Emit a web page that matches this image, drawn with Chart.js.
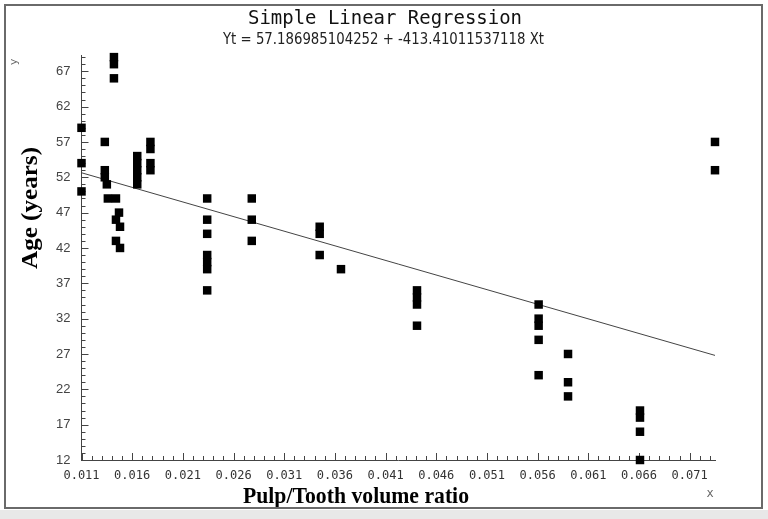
<!DOCTYPE html>
<html><head><meta charset="utf-8">
<script src="https://cdn.jsdelivr.net/npm/chart.js@4"></script>
<style>html,body{margin:0;padding:0;background:#fff}#wrap{width:768px;height:519px;position:relative}</style>
</head><body><div id="wrap"><canvas id="c" width="768" height="519"></canvas></div>
<script>
const titleText = 'Simple Linear Regression';
const subtitleText = 'Yt = 57.186985104252 + -413.41011537118 Xt';
const xAxisTitle = 'Pulp/Tooth volume ratio';
const yAxisTitle = 'Age (years)';

const pulpRatio = [
  0.011, 0.011, 0.011,
  0.0133, 0.0133, 0.0133, 0.0135,
  0.0136, 0.0144,
  0.0142, 0.0142, 0.0142,
  0.0147, 0.0144, 0.0148, 0.0144, 0.0148,
  0.0165, 0.0165, 0.0165, 0.0165, 0.0165,
  0.0178, 0.0178, 0.0178, 0.0178,
  0.0234, 0.0234, 0.0234, 0.0234, 0.0234, 0.0234, 0.0234,
  0.0278, 0.0278, 0.0278,
  0.0345, 0.0345, 0.0345,
  0.0366,
  0.0441, 0.0441, 0.0441, 0.0441,
  0.0561, 0.0561, 0.0561, 0.0561, 0.0561,
  0.0590, 0.0590, 0.0590,
  0.0661, 0.0661, 0.0661, 0.0661,
  0.0735, 0.0735
];
const ageYears = [
  59, 54, 50,
  57, 53, 52, 51,
  49, 49,
  69, 68, 66,
  47, 46, 45, 43, 42,
  55, 54, 53, 52, 51,
  57, 56, 54, 53,
  49, 46, 44, 41, 40, 39, 36,
  49, 46, 43,
  45, 44, 41,
  39,
  36, 35, 34, 31,
  34, 32, 31, 29, 24,
  27, 23, 21,
  19, 18, 16, 12,
  57, 53
];
const regressionX = [0.011, 0.0735];
const regressionY = [52.64, 26.80];
const xTickValues = [0.011, 0.016, 0.021, 0.026, 0.031, 0.036, 0.041, 0.046, 0.051, 0.056, 0.061, 0.066, 0.071];
const yTickValues = [12, 17, 22, 27, 32, 37, 42, 47, 52, 57, 62, 67];

const xMin = Math.min(...pulpRatio), xMax = Math.max(...pulpRatio);
const yMin = Math.min(...ageYears), yMax = Math.max(...ageYears) + 0.3;

function fitText(ctx, text, cx, cy, targetW) {
  const w = ctx.measureText(text).width;
  const sx = targetW / w;
  ctx.save();
  ctx.translate(cx, cy);
  ctx.scale(sx, 1);
  ctx.fillText(text, 0, 0);
  ctx.restore();
}

const decor = {
  id: 'decor',
  beforeDraw(chart) {
    const ctx = chart.ctx;
    ctx.save();
    ctx.fillStyle = '#fff';
    ctx.fillRect(0, 0, chart.width, chart.height);
    ctx.restore();
  },
  beforeDatasetsDraw(chart) {
    const {ctx, chartArea: a, scales: {x, y}} = chart;
    ctx.save();
    ctx.strokeStyle = '#444';
    ctx.lineWidth = 1;
    ctx.beginPath();
    for (let v = yMin; v <= Math.floor(yMax); v++) {
      const py = Math.round(y.getPixelForValue(v)) + 0.5;
      const len = yTickValues.includes(v) ? 7 : 4;
      ctx.moveTo(a.left, py); ctx.lineTo(a.left + len, py);
    }
    for (let k = 0; ; k++) {
      const v = xMin + k * 0.001;
      if (v > xMax + 1e-9) break;
      const px = Math.round(x.getPixelForValue(v)) + 0.5;
      const major = (k % 5) === 0;
      const len = major ? 7 : 4;
      ctx.moveTo(px, a.bottom); ctx.lineTo(px, a.bottom - len);
    }
    ctx.stroke();
    ctx.restore();
  },
  afterDraw(chart) {
    const ctx = chart.ctx;
    ctx.save();
    // title
    ctx.fillStyle = '#111';
    ctx.textAlign = 'center';
    ctx.textBaseline = 'middle';
    ctx.font = '19px "DejaVu Sans Mono"';
    fitText(ctx, titleText, 385, 19, 274);
    ctx.fillStyle = '#222';
    ctx.font = '15px "DejaVu Sans"';
    fitText(ctx, subtitleText, 383.5, 40, 321);
    // axis titles
    ctx.fillStyle = '#000';
    ctx.font = 'bold 24px "Liberation Serif", "Times New Roman", serif';
    fitText(ctx, xAxisTitle, 356, 497, 226);
    ctx.font = 'bold 23px "Liberation Serif", "Times New Roman", serif';
    ctx.save();
    ctx.translate(31, 208);
    ctx.rotate(-Math.PI / 2);
    fitText(ctx, yAxisTitle, 0, 0, 122);
    ctx.restore();
    // small axis letters
    ctx.fillStyle = '#666';
    ctx.font = '11px "DejaVu Sans Mono"';
    ctx.save();
    ctx.translate(14, 62);
    ctx.rotate(-Math.PI / 2);
    ctx.fillText('y', 0, 0);
    ctx.restore();
    ctx.font = '12px "DejaVu Sans Mono"';
    ctx.fillText('x', 710, 494);
    // frame
    ctx.strokeStyle = '#6a6a6a';
    ctx.lineWidth = 2;
    ctx.strokeRect(5, 5, 757, 503);
    ctx.fillStyle = '#e8e8e8';
    ctx.fillRect(0, 510, 768, 9);
    ctx.restore();
  }
};

new Chart(document.getElementById('c'), {
  type: 'scatter',
  data: {
    datasets: [
      {
        type: 'line',
        data: regressionX.map((v, i) => ({x: v, y: regressionY[i]})),
        borderColor: '#444',
        borderWidth: 1,
        pointRadius: 0,
        fill: false,
        order: 2
      },
      {
        data: pulpRatio.map((v, i) => ({x: v, y: ageYears[i]})),
        pointStyle: 'rect',
        pointRadius: 6,
        pointHoverRadius: 6,
        backgroundColor: '#000',
        borderColor: '#000',
        borderWidth: 0,
        clip: false,
        order: 1
      }
    ]
  },
  options: {
    responsive: false,
    animation: false,
    devicePixelRatio: 1,
    layout: {padding: {top: 55, right: 53, bottom: 0, left: 0}},
    plugins: {legend: {display: false}, tooltip: {enabled: false}, title: {display: false}},
    scales: {
      x: {
        type: 'linear',
        min: xMin,
        max: xMax,
        afterBuildTicks: s => { s.ticks = xTickValues.map(v => ({value: v})); },
        afterFit: s => { s.height = 59; },
        grid: {display: false, drawTicks: false},
        border: {display: true, color: '#444', width: 1},
        ticks: {
          font: {family: 'DejaVu Sans Mono', size: 12},
          color: '#333',
          padding: 9,
          autoSkip: false,
          maxRotation: 0,
          callback: v => Number(v).toFixed(3)
        }
      },
      y: {
        type: 'linear',
        min: yMin,
        max: yMax,
        afterBuildTicks: s => { s.ticks = yTickValues.map(v => ({value: v})); },
        afterFit: s => { s.width = 81.5; },
        grid: {display: false, drawTicks: false},
        border: {display: true, color: '#444', width: 1},
        ticks: {
          font: {family: 'Liberation Sans', size: 13},
          color: '#444',
          padding: 11,
          autoSkip: false,
          callback: v => String(v)
        }
      }
    }
  },
  plugins: [decor]
});
</script>
</body></html>
